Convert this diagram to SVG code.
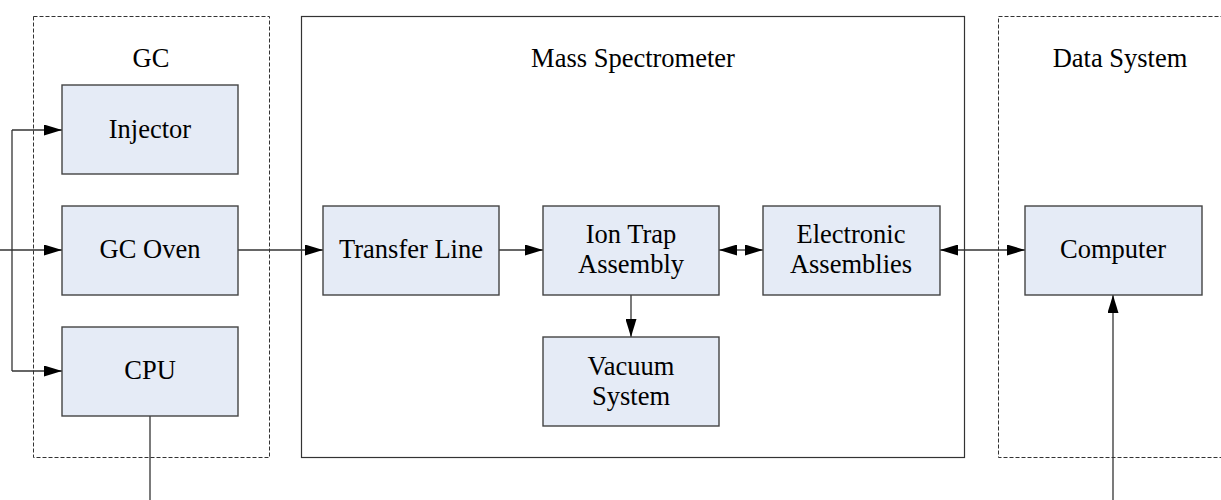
<svg xmlns="http://www.w3.org/2000/svg" width="1221" height="500" viewBox="0 0 1221 500">
  <style>
    .group-dashed { fill: none; stroke: #333; stroke-width: 1; stroke-dasharray: 4 2; }
    .group-solid { fill: none; stroke: #333; stroke-width: 1.2; }
    .box { fill: #e5ebf6; stroke: #444; stroke-width: 1.4; }
    .label { font-family: 'Liberation Serif', 'Times New Roman', serif; font-size: 26.5px; fill: #000; text-anchor: middle; }
    .wire { fill: none; stroke: #333; stroke-width: 1.3; }
  </style>
  <defs>
    <marker id="head" viewBox="0 0 18 11" refX="18" refY="5.5" markerWidth="18" markerHeight="11" markerUnits="userSpaceOnUse" orient="auto-start-reverse">
      <path d="M0,0 L18,5.5 L0,11 Z" fill="#000"/>
    </marker>
  </defs>

  <rect width="1221" height="500" fill="#fff"/>

  <!-- enclosures -->
  <g id="gc-section">
    <rect class="group-dashed" x="33.5" y="16.5" width="236" height="441"/>
    <text class="label" x="151" y="67">GC</text>
  </g>
  <g id="ms-section">
    <rect class="group-solid" x="301.5" y="16.5" width="663" height="441"/>
    <text class="label" x="633" y="67">Mass Spectrometer</text>
  </g>
  <g id="data-section">
    <rect class="group-dashed" x="998.5" y="16.5" width="240" height="441"/>
    <text class="label" x="1120" y="67">Data System</text>
  </g>

  <!-- connectors -->
  <g id="connectors">
    <path class="wire" d="M12,130 L12,371"/>
    <path class="wire" d="M12,130 L62,130" marker-end="url(#head)"/>
    <path class="wire" d="M0,250 L62,250" marker-end="url(#head)"/>
    <path class="wire" d="M12,371 L62,371" marker-end="url(#head)"/>
    <path class="wire" d="M150,416 L150,500"/>
    <path class="wire" d="M238,250 L323,250" marker-end="url(#head)"/>
    <path class="wire" d="M499,250 L543,250" marker-end="url(#head)"/>
    <path class="wire" d="M719,250 L741,250" marker-start="url(#head)"/>
    <path class="wire" d="M741,250 L763,250" marker-end="url(#head)"/>
    <path class="wire" d="M631,295 L631,337" marker-end="url(#head)"/>
    <path class="wire" d="M940,250 L1025,250" marker-start="url(#head)" marker-end="url(#head)"/>
    <path class="wire" d="M1113,500 L1113,295" marker-end="url(#head)"/>
  </g>

  <!-- nodes -->
  <g id="injector">
    <rect class="box" x="62" y="85" width="176" height="89"/>
    <text class="label" x="150" y="138">Injector</text>
  </g>
  <g id="gc-oven">
    <rect class="box" x="62" y="206" width="176" height="89"/>
    <text class="label" x="150" y="258">GC Oven</text>
  </g>
  <g id="cpu">
    <rect class="box" x="62" y="327" width="176" height="89"/>
    <text class="label" x="150" y="379">CPU</text>
  </g>
  <g id="transfer-line">
    <rect class="box" x="323" y="206" width="176" height="89"/>
    <text class="label" x="411" y="258">Transfer Line</text>
  </g>
  <g id="ion-trap">
    <rect class="box" x="543" y="206" width="176" height="89"/>
    <text class="label" x="631" y="243">Ion Trap</text>
    <text class="label" x="631" y="273">Assembly</text>
  </g>
  <g id="electronic-assemblies">
    <rect class="box" x="763" y="206" width="177" height="89"/>
    <text class="label" x="851" y="243">Electronic</text>
    <text class="label" x="851" y="273">Assemblies</text>
  </g>
  <g id="vacuum-system">
    <rect class="box" x="543" y="337" width="176" height="89"/>
    <text class="label" x="631" y="375">Vacuum</text>
    <text class="label" x="631" y="405">System</text>
  </g>
  <g id="computer">
    <rect class="box" x="1025" y="206" width="177" height="89"/>
    <text class="label" x="1113" y="258">Computer</text>
  </g>
</svg>
